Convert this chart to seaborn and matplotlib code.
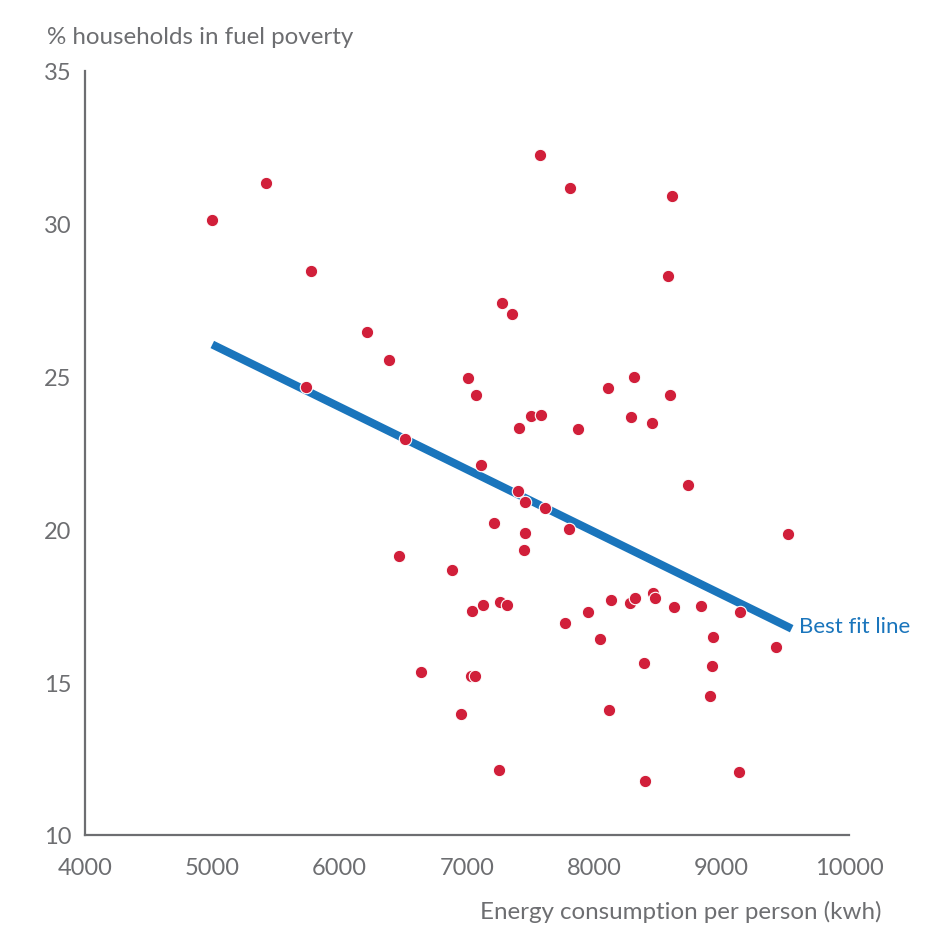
import matplotlib
matplotlib.use('Agg')
import matplotlib.pyplot as plt
import seaborn as sns
import pandas as pd

# data
energy_kwh = [5000, 5419, 5773, 5736, 6215, 6386, 6516, 6463, 6883, 6637,
              6951, 7032, 7063, 7040, 7129, 7260, 7318, 7249, 7009, 7074,
              7111, 7210, 7273, 7351, 7401, 7456, 7453, 7451, 7412, 7500,
              7579, 7577, 7614, 7799, 7771, 7806, 7870, 7951, 8044, 8132,
              8119, 8108, 8281, 8323, 8289, 8315, 8394, 8399, 8454, 8461,
              8477, 8579, 8592, 8611, 8627, 8734, 8834, 8910, 8928, 8936,
              9137, 9141, 9425, 9525]
fuel_poverty = [30.13, 31.34, 28.47, 24.65, 26.47, 25.53, 22.95, 19.14, 18.67, 15.34,
                13.96, 15.20, 15.19, 17.34, 17.54, 17.63, 17.54, 12.14, 24.95, 24.39,
                22.12, 20.22, 27.40, 27.05, 21.27, 20.91, 19.87, 19.32, 23.32, 23.71,
                23.75, 32.24, 20.69, 20.02, 16.95, 31.18, 23.29, 17.31, 16.41, 17.70,
                14.08, 24.64, 17.59, 17.76, 23.68, 24.98, 15.62, 11.76, 23.47, 17.93,
                17.77, 28.29, 24.41, 30.90, 17.46, 21.45, 17.49, 14.54, 15.53, 16.47,
                12.07, 17.31, 16.15, 19.86]

fit_x = [5000, 9550]
fit_y = [26.05, 16.75]

x_ticks = [4000, 5000, 6000, 7000, 8000, 9000, 10000]
y_ticks = [10, 15, 20, 25, 30, 35]

GREY = '#6d6e71'
RED = '#d11f3a'
BLUE = '#1a75bc'

sns.set_style('white')
plt.rcParams['font.family'] = ['Lato', 'DejaVu Sans']

df = pd.DataFrame({'energy': energy_kwh, 'poverty': fuel_poverty})
df_fit = pd.DataFrame({'energy': fit_x, 'poverty': fit_y})

fig = plt.figure(figsize=(9.43, 9.37), dpi=100)
ax = fig.add_axes([0.0901, 0.1078, 0.8102, 0.8154])

sns.lineplot(data=df_fit, x='energy', y='poverty', ax=ax, color=BLUE,
             linewidth=5.8, solid_capstyle='butt', zorder=2)
sns.scatterplot(data=df, x='energy', y='poverty', ax=ax, color=RED, s=80,
                edgecolor='white', linewidth=0.8, zorder=3)

ax.text(fit_x[-1] + 60, fit_y[-1] + 0.1, 'Best fit line', color=BLUE,
        fontsize=16, va='center', ha='left')

ax.set_xlim(4000, 10000)
ax.set_ylim(10, 35)
ax.set_xticks(x_ticks)
ax.set_yticks(y_ticks)
ax.set_xlabel('')
ax.set_ylabel('')

for side in ['top', 'right']:
    ax.spines[side].set_visible(False)
for side in ['left', 'bottom']:
    ax.spines[side].set_color(GREY)
    ax.spines[side].set_linewidth(1.6)

ax.tick_params(axis='both', direction='in', length=13, width=1.6, color=GREY,
               labelcolor=GREY, labelsize=17)
ax.tick_params(axis='y', pad=10)
ax.tick_params(axis='x', pad=16)
ax.patch.set_alpha(0)

fig.text(0.0498, 0.9605, '% households in fuel poverty', color=GREY,
         fontsize=17.4, ha='left', va='center')
fig.text(0.9345, 0.0267, 'Energy consumption per person (kwh)', color=GREY,
         fontsize=17.4, ha='right', va='center')

plt.savefig('out.png', dpi=100)
plt.close()
